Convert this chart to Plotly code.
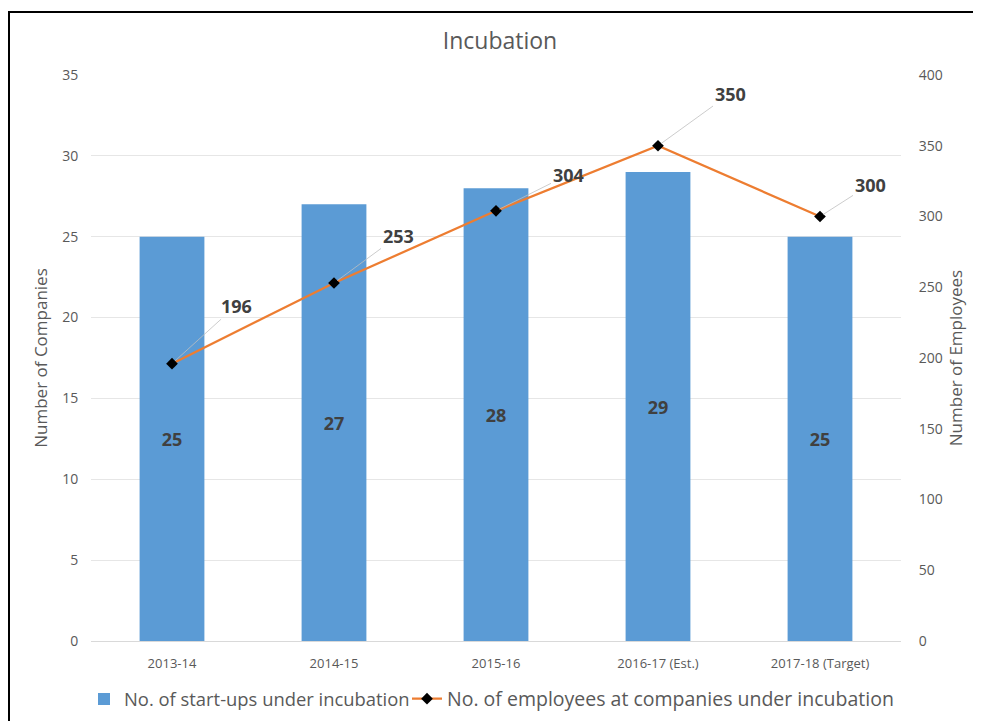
import plotly.graph_objects as go

categories = ["2013-14", "2014-15", "2015-16", "2016-17 (Est.)", "2017-18 (Target)"]
startups = [25, 27, 28, 29, 25]
employees = [196, 253, 304, 350, 300]
label_dx = [64, 64, 72, 72, 50]
label_dy = [-58, -47, -36, -52, -32]

FONT = "Open Sans, sans-serif"
GRAY = "#595959"

# page has an 8px body margin; compensate so plot lands where the reference has it
W, H = 973, 713
L, R, T, B = 83, 80, 67, 80
PW, PH = W - L - R, H - T - B

fig = go.Figure()
fig.add_trace(go.Bar(
    x=categories, y=startups, name="No. of start-ups under incubation",
    marker=dict(color="#5B9BD5", line=dict(width=0)),
    width=0.4,
    text=[str(v) for v in startups], textposition="inside", insidetextanchor="middle",
    textfont=dict(family=FONT, size=18, color="#404040", weight="bold"),
    yaxis="y", legend="legend",
))
fig.add_trace(go.Scatter(
    x=categories, y=employees, name="No. of employees at companies under incubation",
    mode="lines+markers",
    line=dict(color="#ED7D31", width=2.25),
    marker=dict(symbol="diamond", size=9, color="black"),
    yaxis="y2", legend="legend2",
))

for c, v, dx, dy in zip(categories, employees, label_dx, label_dy):
    fig.add_annotation(
        x=c, y=v, xref="x", yref="y2", text="<b>%d</b>" % v,
        showarrow=True, arrowhead=0, arrowwidth=0.8, arrowcolor="#BFBFBF",
        ax=dx, ay=dy, standoff=4,
        font=dict(family=FONT, size=18, color="#404040"),
    )

fig.add_shape(type="rect", xref="paper", yref="paper",
              x0=(1 - L) / PW, x1=1.2, y0=-0.3, y1=1 + (T - 4) / PH,
              line=dict(color="black", width=2), fillcolor="rgba(0,0,0,0)", layer="above")

legend_y = -(691 - (T + PH)) / PH
legend_common = dict(orientation="h", yanchor="middle", y=legend_y, xanchor="left",
                     itemwidth=30, bgcolor="rgba(0,0,0,0)")

fig.update_layout(
    width=W, height=H,
    margin=dict(l=L, r=R, t=T, b=B, autoexpand=False),
    paper_bgcolor="white", plot_bgcolor="white",
    title=dict(text="Incubation", x=(492 - L) / PW, xref="paper", xanchor="center",
               y=1 - 33 / H, yanchor="middle",
               font=dict(family=FONT, size=23, color=GRAY)),
    font=dict(family=FONT, color=GRAY),
    xaxis=dict(showgrid=False, showline=True, linecolor="#D9D9D9", linewidth=1,
               tickfont=dict(family=FONT, size=13, color=GRAY), ticks="outside", ticklen=10,
               tickcolor="rgba(0,0,0,0)"),
    yaxis=dict(range=[0, 35], dtick=5, showgrid=True, gridcolor="#E6E6E6", zeroline=False,
               title=dict(text="Number of Companies", font=dict(family=FONT, size=17, color=GRAY), standoff=10),
               tickfont=dict(family=FONT, size=14, color=GRAY), ticks="outside", ticklen=9,
               tickcolor="rgba(0,0,0,0)"),
    yaxis2=dict(range=[0, 400], dtick=50, overlaying="y", side="right", showgrid=False, zeroline=False,
                title=dict(text="Number of Employees", font=dict(family=FONT, size=17, color=GRAY), standoff=8),
                tickfont=dict(family=FONT, size=14, color=GRAY), ticks="outside", ticklen=14,
                tickcolor="rgba(0,0,0,0)"),
    legend=dict(x=(76 - L) / PW, font=dict(family=FONT, size=18.4, color=GRAY), **legend_common),
    legend2=dict(x=(399 - L) / PW, font=dict(family=FONT, size=19.5, color=GRAY), **legend_common),
    showlegend=True,
)

fig.write_html("out.html")
